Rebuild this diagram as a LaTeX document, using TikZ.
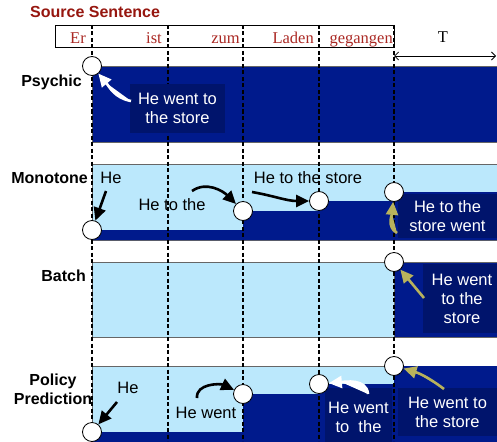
\documentclass[tikz,border=0pt]{standalone}
\usepackage{fontspec}
\setmainfont{Liberation Serif}
\setsansfont{Liberation Sans}
\usepackage{xcolor}
\usepackage{tikz}
\usetikzlibrary{arrows.meta}

\definecolor{darkrow}{RGB}{0,26,140}
\definecolor{lightrow}{RGB}{187,232,252}
\definecolor{navybox}{RGB}{0,20,108}
\definecolor{arrowolive}{RGB}{184,178,92}
\definecolor{wordred}{RGB}{170,40,35}
\definecolor{titlered}{RGB}{150,22,15}

\tikzset{
  bound/.style={circle, draw=black, line width=0.8pt, fill=white, minimum size=19pt, inner sep=0pt},
  rowlabel/.style={font=\sffamily\bfseries\fontsize{16}{19}\selectfont, anchor=east, inner sep=0pt},
  hyp/.style={font=\sffamily\fontsize{16.5}{19}\selectfont, inner sep=0pt},
  hypbox/.style={hyp, fill=navybox, text=white, align=center},
  word/.style={font=\rmfamily\fontsize{16.5}{19}\selectfont, text=wordred, anchor=base east, inner sep=0pt},
  rowedge/.style={draw=black!60, line width=0.6pt},
  sepline/.style={line width=1.6pt, dash pattern=on 4pt off 2.5pt},
  blackarrow/.style={line width=2.6pt, -{Triangle[length=13pt,width=12pt]}},
  whitearrow/.style={blackarrow, draw=white, fill=white},
  olivearrow/.style={blackarrow, draw=arrowolive, fill=arrowolive}
}

\begin{document}
\begin{tikzpicture}[x=1pt,y=1pt]
        \useasboundingbox (0,0) rectangle (497,-441);
        \clip (0,0) rectangle (497,-441);

        %% Source sentence
        \node[anchor=base west, inner sep=0pt, text=titlered, font=\sffamily\bfseries\fontsize{16}{19}\selectfont] (title) at (30,-18) {Source Sentence};
        \draw[line width=0.8pt] (55,-25) rectangle (394,-47);
        \node[word] (er) at (86,-44) {Er};
        \node[word] (ist) at (162,-44) {ist};
        \node[word] (zum) at (240,-44) {zum};
        \node[word] (laden) at (314,-44) {Laden};
        \node[word] (gegangen) at (393,-44) {gegangen};

        % Lag T
        \node[anchor=base, inner sep=0pt, font=\rmfamily\fontsize{16.5}{19}\selectfont] (lag) at (443,-43) {T};
        \coordinate (lagleft) at (394,-56);
        \coordinate (lagright) at (496,-56);
        \draw[line width=0.8pt, {Straight Barb[length=4pt]}-{Straight Barb[length=4pt]}] (lagleft) -- (lagright);

        % Rows
        \draw[rowedge, fill=darkrow] (92,-66) rectangle (505,-142);
        \draw[rowedge, fill=lightrow] (92,-164) rectangle (505,-240);
        \fill[darkrow] (92,-230) -- (243,-230) -- (243,-211) -- (319,-211) -- (319,-201)
                -- (394,-201) -- (394,-192) -- (505,-192) -- (505,-240) -- (92,-240) -- cycle;
        \draw[rowedge, fill=lightrow] (92,-262) rectangle (505,-337);
        \draw[rowedge, fill=darkrow] (394,-262) rectangle (505,-337);
        \draw[rowedge, fill=lightrow] (92,-366) rectangle (505,-446);
        \fill[darkrow] (92,-432) -- (243,-432) -- (243,-394) -- (319,-394) -- (319,-384)
                -- (394,-384) -- (394,-366) -- (505,-366) -- (505,-446) -- (92,-446) -- cycle;

        % Separators
        \foreach \x in {92,168,243,319,394} {
                \draw[sepline] (\x,-25) -- (\x,-441);
                }

        % Row titles
        \node[rowlabel] (psychic) at (82,-82) {Psychic};
        \node[rowlabel] (monotone) at (88,-178) {Monotone};
        \node[rowlabel] (batch) at (86,-276) {Batch};
        \node[rowlabel, anchor=center, align=center] (policy) at (53,-389) {Policy\\Prediction};

        % Outputs
        \node[hypbox, minimum width=95pt, minimum height=49pt] (pout) at (177.5,-108.5) {He went to\\the store};
        \node[hyp] (mout0) at (111,-178) {He};
        \node[hyp] (mout1) at (172,-205) {He to the};
        \node[hyp] (mout2) at (308,-178) {He to the store};
        \node[hypbox, minimum width=99pt, minimum height=44pt] (mout3) at (447.5,-216) {He to the\\store went};
        \node[hypbox, minimum width=78pt, minimum height=69pt] (bout) at (462,-298.5) {He went\\to the\\store};
        \node[hyp] (qout0) at (128,-388) {He};
        \node[hyp] (qout1) at (206,-413) {He went};
        \node[hypbox, minimum width=67pt, minimum height=58pt] (qout2) at (358.5,-417) {He went\\to\ \ the};
        \node[hypbox, minimum width=99pt, minimum height=48pt] (qout3) at (447.5,-412) {He went to\\the store};

        % Read points
        \node[bound] (p0) at (92,-66) {};
        \node[bound] (m0) at (92,-230) {};
        \node[bound] (m1) at (243,-211) {};
        \node[bound] (m2) at (319,-201) {};
        \node[bound] (m3) at (394,-192) {};
        \node[bound] (b0) at (394,-262) {};
        \node[bound] (q0) at (92,-432) {};
        \node[bound] (q1) at (243,-394) {};
        \node[bound] (q2) at (319,-384) {};
        \node[bound] (q3) at (394,-366) {};

        % Arrows
        \coordinate (ptail) at (131,-101);
        \draw[whitearrow] (ptail) to[out=170,in=-50] (p0);
        \coordinate (mtail0) at (106,-191);
        \draw[blackarrow] (mtail0) -- (m0);
        \coordinate (mtail1) at (192,-191);
        \draw[blackarrow] (mtail1) to[out=35,in=135] (m1);
        \coordinate (mtail2) at (252,-192);
        \draw[blackarrow] (mtail2) to[out=-10,in=180] (m2);
        \coordinate (mtail3) at (397,-233);
        \draw[olivearrow] (mtail3) to[out=150,in=-95] (m3);
        \coordinate (btail) at (424,-298);
        \draw[olivearrow] (btail) -- (b0);
        \coordinate (qtail0) at (117,-402);
        \draw[blackarrow] (qtail0) -- (q0);
        \coordinate (qtail1) at (197,-398);
        \draw[blackarrow] (qtail1) to[out=95,in=155] (q1);
        \coordinate (qtail2) at (368,-394);
        \draw[whitearrow] (qtail2) to[out=95,in=5] (q2);
        \coordinate (qtail3) at (444,-389);
        \draw[olivearrow] (qtail3) to[bend right=10] (q3);
\end{tikzpicture}
\end{document}
